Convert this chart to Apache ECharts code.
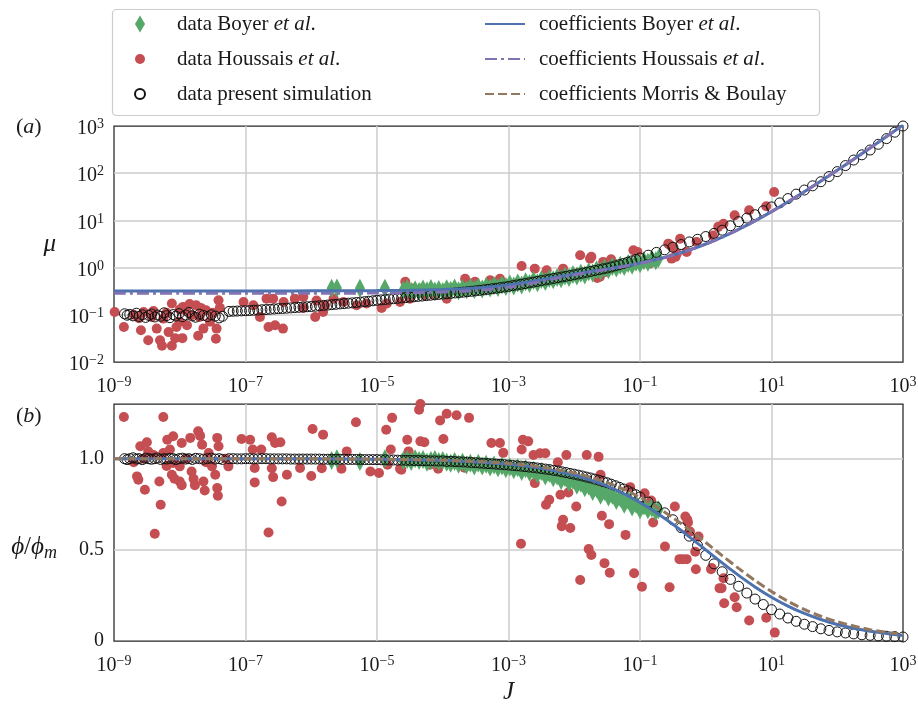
<!DOCTYPE html>
<html><head><meta charset="utf-8">
<script src="https://cdn.jsdelivr.net/npm/echarts/dist/echarts.min.js"></script>
<style>html,body{margin:0;padding:0;background:#fff}#c{width:918px;height:705px}</style>
</head><body><div id="c"></div>
<script>
// ---------- x tick exponents (J = 10^n) ----------
const xTickExponents = [-9, -7, -5, -3, -1, 1, 3];

// ---------- data: present simulation (log10 J, mu, phi/phi_m) ----------
const simLogJ = [-8.84,-8.80,-8.76,-8.71,-8.66,-8.62,-8.57,-8.52,-8.47,-8.43,-8.38,-8.34,-8.29,-8.24,-8.20,-8.15,-8.10,-8.06,-8.01,-7.96,-7.91,-7.86,-7.81,-7.76,-7.70,-7.64,-7.58,-7.52,-7.46,-7.40,-7.35,
 -7.25,-7.125,-7,-6.875,-6.75,-6.625,-6.5,-6.375,-6.25,-6.125,-6,-5.875,-5.75,-5.625,-5.5,-5.375,-5.25,-5.125,-5,-4.875,-4.75,-4.625,-4.5,-4.375,-4.25,-4.125,-4,-3.875,-3.75,-3.625,-3.5,-3.375,-3.25,-3.125,-3,-2.875,-2.75,-2.625,-2.5,-2.375,-2.25,-2.125,-2,-1.875,-1.75,-1.625,-1.5,-1.375,-1.25,-1.125,-1,-0.875,-0.75,-0.625,-0.5,-0.375,-0.25,-0.125,0,0.125,0.25,0.375,0.5,0.625,0.75,0.875,1,1.125,1.25,1.375,1.5,1.625,1.75,1.875,2,2.125,2.25,2.375,2.5,2.625,2.75,2.875,3,
 -7.1875,-7.0625,-6.9375,-6.8125,-6.6875,-6.5625,-6.4375,-6.3125,-6.1875,-6.0625,-5.9375,-5.8125,-5.6875,-5.5625,-5.4375,-5.3125,-5.1875,-5.0625,-4.9375,-4.8125,-4.6875,-4.5625,-4.4375,-4.3125,-4.1875,-4.0625,-3.9375,-3.8125,-3.6875,-3.5625,-3.4375,-3.3125,-3.1875,-3.0625,-2.9375,-2.8125,-2.6875,-2.5625,-2.4375,-2.3125,-2.1875,-2.0625,-1.9375,-1.8125,-1.6875,-1.5625,-1.4375,-1.3125,-1.1875,-1.0625];
const simMu = [0.105,0.098,0.102,0.095,0.108,0.092,0.100,0.088,0.097,0.104,0.090,0.099,0.093,0.110,0.096,0.087,0.101,0.094,0.106,0.091,0.099,0.112,0.095,0.089,0.103,0.097,0.092,0.100,0.094,0.086,0.093,
 0.118,0.120,0.122,0.125,0.128,0.131,0.135,0.138,0.142,0.146,0.150,0.155,0.161,0.167,0.173,0.179,0.186,0.194,0.203,0.211,0.219,0.228,0.237,0.246,0.255,0.265,0.275,0.285,0.296,0.308,0.322,0.338,0.356,0.377,0.400,0.428,0.458,0.492,0.530,0.568,0.610,0.655,0.705,0.765,0.83,0.90,0.98,1.09,1.22,1.39,1.60,1.83,2.10,2.38,2.70,3.08,3.50,3.98,4.55,5.30,6.20,7.70,9.40,11.2,13.2,16.0,19.3,23.5,29.0,36.0,44.0,54,66,85,108,145,190,245,310,410,540,740,1000,
 0.119,0.121,0.123,0.126,0.129,0.133,0.136,0.140,0.144,0.148,0.152,0.158,0.164,0.170,0.176,0.182,0.190,0.198,0.207,0.215,0.223,0.232,0.241,0.250,0.260,0.270,0.280,0.290,0.302,0.315,0.330,0.347,0.366,0.388,0.414,0.443,0.475,0.511,0.549,0.589,0.632,0.680,0.735,0.797,0.865,0.94,1.03,1.15,1.30,1.49];
const simPhi = [1.0,0.995,1.0,1.005,0.998,1.0,0.995,1.003,1.0,0.997,1.0,1.004,0.996,1.0,0.998,1.002,1.0,0.995,1.0,1.003,0.998,1.0,0.996,1.002,1.0,0.997,1.0,1.003,0.998,1.0,0.996,
 1.0,0.999,1.0,0.999,1.0,0.999,0.999,0.999,0.998,0.998,0.998,0.998,0.997,0.997,0.997,0.996,0.996,0.995,0.995,0.994,0.993,0.992,0.991,0.990,0.989,0.988,0.988,0.986,0.983,0.981,0.978,0.975,0.972,0.969,0.965,0.961,0.957,0.952,0.946,0.940,0.933,0.924,0.915,0.905,0.894,0.882,0.868,0.852,0.834,0.813,0.790,0.762,0.735,0.703,0.665,0.622,0.575,0.524,0.470,0.423,0.380,0.338,0.300,0.263,0.230,0.200,0.172,0.148,0.126,0.108,0.092,0.079,0.067,0.058,0.050,0.044,0.039,0.034,0.031,0.028,0.026,0.024,0.022,
 1.0,0.999,1.0,0.999,1.0,0.999,0.999,0.998,0.998,0.998,0.998,0.997,0.997,0.997,0.996,0.996,0.995,0.995,0.994,0.993,0.992,0.991,0.990,0.989,0.988,0.987,0.985,0.984,0.982,0.979,0.976,0.973,0.970,0.967,0.963,0.959,0.954,0.949,0.943,0.936,0.928,0.919,0.910,0.899,0.888,0.875,0.860,0.843,0.824,0.802];

// ---------- data: Boyer et al. ----------
const boyerLogJ = [-5.69,-5.61,-5.26,-4.88,-4.60,-4.54,-4.48,-4.42,-4.36,-4.30,-4.24,-4.18,-4.12,-4.06,-4.00,-3.94,-3.88,-3.82,-3.76,-3.70,-3.64,-3.58,-3.52,-3.46,-3.40,-3.34,-3.28,-3.22,-3.16,-3.10,-3.04,-2.98,-2.92,-2.86,-2.80,-2.74,-2.68,-2.62,-2.56,-2.50,-2.44,-2.38,-2.32,-2.26,-2.20,-2.14,-2.08,-2.02,-1.96,-1.90,-1.84,-1.78,-1.72,-1.66,-1.60,-1.54,-1.48,-1.42,-1.36,-1.30,-1.24,-1.18,-1.12,-1.06,-1.00,-0.94,-0.88,-0.82,-0.76,-0.72];
const boyerMu = [0.365,0.37,0.365,0.365,0.33,0.36,0.315,0.34,0.31,0.35,0.325,0.36,0.32,0.345,0.31,0.355,0.33,0.37,0.325,0.36,0.34,0.385,0.345,0.39,0.35,0.40,0.37,0.42,0.38,0.43,0.40,0.45,0.41,0.47,0.43,0.50,0.46,0.53,0.48,0.56,0.51,0.59,0.55,0.62,0.58,0.66,0.62,0.71,0.66,0.76,0.70,0.82,0.77,0.90,0.84,0.98,0.90,1.05,0.98,1.12,1.05,1.22,1.12,1.30,1.20,1.40,1.30,1.50,1.40,1.55];
const boyerPhi = [0.99,1.0,0.985,1.0,0.99,0.995,0.985,1.0,0.99,0.995,0.98,0.99,0.995,0.985,0.99,0.98,0.975,0.985,0.97,0.98,0.965,0.975,0.96,0.975,0.96,0.97,0.955,0.965,0.95,0.96,0.945,0.955,0.94,0.95,0.93,0.945,0.925,0.935,0.915,0.93,0.905,0.92,0.895,0.905,0.88,0.895,0.87,0.88,0.855,0.865,0.84,0.85,0.82,0.835,0.80,0.82,0.79,0.80,0.77,0.785,0.75,0.77,0.735,0.75,0.72,0.74,0.72,0.73,0.71,0.72];

// ---------- data: Houssais et al. (panel a) ----------
const houssaisTopLogJ = [-8.99,-8.85,-8.70,-8.62,-8.59,-8.55,-8.48,-8.43,-8.40,-8.35,-8.30,-8.27,-8.25,-8.20,-8.17,-8.12,-8.12,-8.07,-8.05,-8.00,-8.00,-7.96,-7.95,-7.90,-7.89,-7.85,-7.82,-7.75,-7.72,-7.70,-7.68,-7.64,-7.60,-7.54,-7.50,-7.45,-7.44,-7.41,-7.39,-7.03,-6.88,-6.78,-6.68,-6.65,-6.58,-6.55,-6.43,-6.42,-6.25,-6.12,-6.12,-5.94,-5.92,-5.82,-5.79,-5.66,-5.51,-5.31,-5.16,-4.93,-4.85,-4.65,-4.57,-4.55,-4.50,-4.45,-4.32,-4.27,-4.12,-3.94,-3.66,-3.51,-3.38,-3.28,-3.13,-3.10,-2.97,-2.80,-2.60,-2.42,-2.21,-2.17,-1.91,-1.76,-1.74,-1.66,-1.65,-1.61,-1.56,-1.53,-1.44,-1.10,-1.04,-1.00,-0.85,-0.57,-0.54,-0.52,-0.51,-0.46,-0.44,-0.39,-0.29,-0.14,0.11,0.19,0.27,0.44,0.66,0.92,1.04];
const houssaisTopMu = [0.115,0.055,0.10,0.085,0.047,0.115,0.029,0.090,0.12,0.051,0.029,0.022,0.083,0.11,0.043,0.022,0.173,0.032,0.055,0.071,0.13,0.032,0.147,0.12,0.060,0.17,0.098,0.16,0.036,0.09,0.14,0.051,0.125,0.071,0.11,0.031,0.051,0.203,0.14,0.187,0.16,0.090,0.22,0.055,0.22,0.060,0.051,0.187,0.22,0.24,0.14,0.090,0.20,0.115,0.16,0.22,0.187,0.16,0.173,0.14,0.173,0.187,0.50,0.28,0.22,0.36,0.36,0.26,0.26,0.22,0.58,0.50,0.36,0.54,0.58,0.48,0.42,1.08,0.95,0.88,0.58,0.95,1.82,1.55,1.69,0.69,0.60,0.64,1.32,0.81,1.50,2.33,2.15,1.22,1.22,3.22,2.97,1.55,2.76,1.69,1.98,4.10,2.15,3.50,4.80,7.30,8.50,12.8,16.4,20.0,40.0];

// ---------- data: Houssais et al. (panel b) ----------
const houssaisBotLogJ = [-8.85,-8.70,-8.65,-8.63,-8.60,-8.55,-8.53,-8.50,-8.48,-8.40,-8.38,-8.31,-8.29,-8.25,-8.25,-8.20,-8.19,-8.15,-8.12,-8.10,-8.10,-8.08,-8.00,-8.00,-7.97,-7.97,-7.90,-7.84,-7.82,-7.79,-7.77,-7.72,-7.69,-7.66,-7.64,-7.62,-7.60,-7.56,-7.51,-7.46,-7.43,-7.43,-7.42,-7.41,-7.30,-7.26,-7.06,-6.93,-6.89,-6.86,-6.86,-6.76,-6.65,-6.60,-6.60,-6.58,-6.55,-6.47,-6.45,-6.37,-6.17,-6.00,-5.98,-5.84,-5.82,-5.54,-5.46,-5.32,-5.10,-4.97,-4.86,-4.84,-4.79,-4.77,-4.65,-4.63,-4.54,-4.52,-4.36,-4.34,-4.34,-4.28,-4.20,-4.07,-4.04,-3.99,-3.94,-3.79,-3.67,-3.60,-3.26,-3.13,-3.08,-2.81,-2.80,-2.78,-2.70,-2.62,-2.60,-2.52,-2.44,-2.43,-2.38,-2.25,-2.21,-2.19,-2.17,-2.12,-2.09,-2.06,-1.97,-1.91,-1.81,-1.78,-1.74,-1.63,-1.60,-1.58,-1.58,-1.54,-1.47,-1.46,-1.22,-1.15,-1.09,-0.97,-0.93,-0.83,-0.80,-0.62,-0.55,-0.47,-0.40,-0.35,-0.31,-0.29,-0.28,-0.27,-0.24,-0.16,-0.15,-0.11,0.08,0.09,0.21,0.24,0.27,0.28,0.44,0.47,0.66,0.92,1.05];
const houssaisBotPhi = [1.229,0.98,0.903,0.885,1.068,1.0,0.83,1.09,1.04,1.02,0.588,0.875,0.747,1.229,1.031,0.96,1.104,1.05,0.912,1.123,0.976,0.89,0.958,0.875,1.086,0.855,1.0,1.114,0.93,0.89,0.855,1.15,1.125,1.077,0.875,0.826,0.98,1.031,0.958,0.912,1.114,0.839,0.797,1.068,1.0,0.958,1.108,1.104,1.05,0.949,0.87,1.05,0.595,1.118,0.948,0.899,1.086,1.09,0.765,0.912,0.949,0.905,1.163,0.948,1.132,0.945,1.04,1.20,0.93,0.922,1.159,0.967,1.05,1.224,0.945,0.94,1.104,1.04,1.269,1.30,1.095,1.09,0.967,0.945,1.21,1.108,1.247,1.238,0.95,1.224,1.086,1.086,1.032,0.533,1.05,1.104,1.095,1.02,0.866,1.03,1.03,0.747,0.775,0.98,0.802,0.63,0.665,1.02,0.815,0.62,0.738,0.335,1.02,0.504,0.472,1.01,0.912,0.835,0.687,0.427,0.641,0.375,0.582,0.844,0.372,0.298,0.81,0.77,0.65,0.518,0.295,0.738,0.449,0.449,0.683,0.449,0.665,0.65,0.60,0.49,0.394,0.573,0.394,0.40,0.29,0.29,0.344,0.207,0.24,0.185,0.112,0.128,0.046];

// ---------- coefficient curves ----------
const topLineLogJ = [-9,-8,-7,-6.5,-6,-5.5,-5,-4.5,-4,-3.75,-3.5,-3.25,-3,-2.75,-2.5,-2.25,-2,-1.75,-1.5,-1.25,-1,-0.75,-0.5,-0.25,0,0.25,0.5,0.75,1,1.5,2,2.5,3];
const boyerCoefMu = [0.3200,0.3201,0.3205,0.3208,0.3215,0.3228,0.3254,0.3306,0.3422,0.3528,0.3689,0.3937,0.4306,0.4832,0.5526,0.6365,0.7296,0.8295,0.9397,1.072,1.2444,1.484,1.833,2.356,3.161,4.427,6.462,9.79,15.32,40.54,115.3,342.9,1046.9];
const houssaisCoefMu = [0.285,0.285,0.285,0.285,0.2855,0.2865,0.289,0.294,0.304,0.312,0.326,0.349,0.384,0.436,0.509,0.60,0.70,0.80,0.915,1.05,1.225,1.47,1.82,2.345,3.15,4.42,6.455,9.78,15.3,40.5,115.2,342.8,1046.8];
const botLineLogJ = [-9,-8,-7,-6,-5.5,-5,-4.5,-4,-3.5,-3,-2.5,-2,-1.75,-1.5,-1.25,-1,-0.75,-0.5,-0.25,0,0.25,0.5,0.75,1,1.25,1.5,1.75,2,2.5,3];
const boyerCoefPhi = [1.0,0.9999,0.9997,0.999,0.9982,0.9968,0.9944,0.9901,0.9825,0.9693,0.9468,0.9091,0.8823,0.849,0.8083,0.7597,0.7034,0.6401,0.5714,0.5,0.4285,0.36,0.2966,0.2403,0.1917,0.151,0.1177,0.0909,0.0532,0.0307];
const morrisCoefPhi = [1.0,0.9999,0.9997,0.9992,0.9985,0.9973,0.9952,0.9916,0.9851,0.9738,0.9544,0.9217,0.8982,0.8687,0.8323,0.7882,0.7362,0.6766,0.6107,0.5405,0.4687,0.3982,0.3316,0.2712,0.2181,0.173,0.1356,0.1053,0.0621,0.0359];

// ---------- style ----------
const FONT = '"Liberation Serif","Times New Roman","DejaVu Serif",serif';
const TXT = '#1a1a1a';
const GREEN = '#55A868', RED = '#C44E52', BLUE = '#4C72B0', PURPLE = '#8172B2', BROWN = '#937860';
const GRIDC = '#cccccc';

const powRich = {
  b: {fontFamily: FONT, fontSize: 20, color: TXT, padding: [6, 0, 0, 0]},
  s: {fontFamily: FONT, fontSize: 14, color: TXT, padding: [0, 0, 3, 0]}
};
function powLabel(v) {
  const n = Math.round(v);
  return '{b|10}{s|' + (n < 0 ? '\u2212' + (-n) : String(n)) + '}';
}
const lg = Math.log10;
function pts(xs, ys, f) { return xs.map((x, i) => [x, f ? f(ys[i]) : ys[i]]); }

function xAx(gi, withName) {
  return {
    type: 'value', gridIndex: gi, min: -9, max: 3, interval: 2,
    axisLine: {show: false}, axisTick: {show: false},
    splitLine: {show: true, showMinLine: false, showMaxLine: false, lineStyle: {color: GRIDC, width: 1.5}},
    axisLabel: {margin: 9, formatter: powLabel, rich: powRich},
    name: withName ? 'J' : '', nameLocation: 'middle', nameGap: 39,
    nameTextStyle: {fontFamily: FONT, fontStyle: 'italic', fontSize: 25, color: TXT}
  };
}

const chart = echarts.init(document.getElementById('c'), null, {renderer: 'canvas'});
const legendText = {
  fontFamily: FONT, fontSize: 21, color: TXT, lineHeight: 24,
  rich: {
    g1: {width: 27}, g2: {width: 9},
    i: {fontFamily: FONT, fontSize: 21, fontStyle: 'italic', color: TXT}
  }
};
function fmtName(n) { return n.replace('et al.', '{i|et al}.'); }

const option = {
  animation: false,
  backgroundColor: '#ffffff',
  grid: [
    {left: 114, top: 126, width: 789, height: 236, show: true, borderColor: '#262626', borderWidth: 1.25, backgroundColor: 'rgba(0,0,0,0)', containLabel: false, outerBoundsMode: 'none'},
    {left: 114, top: 404, width: 789, height: 237, show: true, borderColor: '#262626', borderWidth: 1.25, backgroundColor: 'rgba(0,0,0,0)', containLabel: false, outerBoundsMode: 'none'}
  ],
  xAxis: [xAx(0, false), xAx(1, true)],
  yAxis: [
    {type: 'value', gridIndex: 0, min: -2, max: 3, interval: 1,
     axisLine: {show: false}, axisTick: {show: false},
     splitLine: {show: true, showMinLine: false, showMaxLine: false, lineStyle: {color: GRIDC, width: 1.5}},
     axisLabel: {margin: 10, formatter: powLabel, rich: powRich},
     name: '\u03BC', nameLocation: 'middle', nameRotate: 0, nameGap: 58,
     nameTextStyle: {fontFamily: FONT, fontStyle: 'italic', fontSize: 25, color: TXT}},
    {type: 'value', gridIndex: 1, min: 0, max: 1.3, interval: 0.5,
     axisLine: {show: false}, axisTick: {show: false},
     splitLine: {show: true, showMinLine: false, showMaxLine: false, lineStyle: {color: GRIDC, width: 1.5}},
     axisLabel: {margin: 10, showMaxLabel: false, fontFamily: FONT, fontSize: 20, color: TXT,
       formatter: v => Math.abs(v) < 1e-9 ? '0' : (Math.abs(v - 0.5) < 1e-9 ? '0.5' : (Math.abs(v - 1) < 1e-9 ? '1.0' : ''))},
     name: '{it|\u03D5}/{it|\u03D5}{sub|m}', nameLocation: 'middle', nameRotate: 0, nameGap: 57,
     nameTextStyle: {fontFamily: FONT, fontSize: 25, color: TXT, padding: [50, 0, 0, 0],
       rich: {it: {fontFamily: FONT, fontStyle: 'italic', fontSize: 25, color: TXT},
              sub: {fontFamily: FONT, fontStyle: 'italic', fontSize: 18, color: TXT, padding: [12, 0, 0, 0]}}}}
  ],
  title: [
    {text: '({i|a})', left: 16, top: 116, padding: 0,
     textStyle: {fontFamily: FONT, fontSize: 22, fontWeight: 'normal', color: TXT, rich: {i: {fontFamily: FONT, fontSize: 22, fontStyle: 'italic', color: TXT}}}},
    {text: '({i|b})', left: 16, top: 405, padding: 0,
     textStyle: {fontFamily: FONT, fontSize: 22, fontWeight: 'normal', color: TXT, rich: {i: {fontFamily: FONT, fontSize: 22, fontStyle: 'italic', color: TXT}}}}
  ],
  graphic: [
    {type: 'rect', z: 1, silent: true, shape: {x: 112.5, y: 9.5, width: 707, height: 106, r: 4},
     style: {fill: '#ffffff', stroke: '#cccccc', lineWidth: 1.2}}
  ],
  legend: [
    {left: 134, top: 12, orient: 'vertical', itemWidth: 10, itemHeight: 17, itemGap: 11, padding: 0, z: 5,
     selectedMode: false,
     data: ['data Boyer et al.', 'data Houssais et al.', 'data present simulation'],
     formatter: n => '{g1| }' + fmtName(n), textStyle: legendText},
    {left: 484, top: 12, orient: 'vertical', itemWidth: 40, itemHeight: 17, itemGap: 11, padding: 0, z: 5,
     selectedMode: false, itemStyle: {opacity: 0},
     data: ['coefficients Boyer et al.', 'coefficients Houssais et al.', 'coefficients Morris & Boulay'],
     formatter: n => '{g2| }' + fmtName(n), textStyle: legendText}
  ],
  series: [
    // panel (a)
    {name: 'data Houssais et al.', type: 'scatter', xAxisIndex: 0, yAxisIndex: 0, z: 2, silent: true,
     data: pts(houssaisTopLogJ, houssaisTopMu, lg), symbol: 'circle', symbolSize: 10, itemStyle: {color: RED, opacity: 1}},
    {name: 'data Boyer et al.', type: 'scatter', xAxisIndex: 0, yAxisIndex: 0, z: 3, silent: true,
     data: pts(boyerLogJ, boyerMu, lg), symbol: 'diamond', symbolSize: [10, 19], itemStyle: {color: GREEN, opacity: 1}},
    {name: 'data present simulation', type: 'scatter', xAxisIndex: 0, yAxisIndex: 0, z: 4, silent: true,
     data: pts(simLogJ, simMu, lg), symbol: 'circle', symbolSize: 10,
     itemStyle: {color: 'rgba(255,255,255,0)', borderColor: '#111111', borderWidth: 1, opacity: 1}},
    {name: 'coefficients Boyer et al.', type: 'line', xAxisIndex: 0, yAxisIndex: 0, z: 5, silent: true,
     data: pts(topLineLogJ, boyerCoefMu, lg), symbol: 'none', smooth: 0.3, color: BLUE,
     itemStyle: {color: BLUE}, lineStyle: {color: BLUE, width: 3}},
    {name: 'coefficients Houssais et al.', type: 'line', xAxisIndex: 0, yAxisIndex: 0, z: 6, silent: true,
     data: pts(topLineLogJ, houssaisCoefMu, lg), symbol: 'none', smooth: 0.3, color: PURPLE,
     itemStyle: {color: PURPLE}, lineStyle: {color: PURPLE, width: 3, type: [12, 4, 3, 4]}},
    // panel (b)
    {name: 'data Houssais et al.', type: 'scatter', xAxisIndex: 1, yAxisIndex: 1, z: 2, silent: true,
     data: pts(houssaisBotLogJ, houssaisBotPhi), symbol: 'circle', symbolSize: 10, itemStyle: {color: RED, opacity: 1}},
    {name: 'data Boyer et al.', type: 'scatter', xAxisIndex: 1, yAxisIndex: 1, z: 3, silent: true,
     data: pts(boyerLogJ, boyerPhi), symbol: 'diamond', symbolSize: [10, 19], itemStyle: {color: GREEN, opacity: 1}},
    {name: 'data present simulation', type: 'scatter', xAxisIndex: 1, yAxisIndex: 1, z: 4, silent: true,
     data: pts(simLogJ, simPhi), symbol: 'circle', symbolSize: 10,
     itemStyle: {color: 'rgba(255,255,255,0)', borderColor: '#111111', borderWidth: 1, opacity: 1}},
    {name: 'coefficients Boyer et al.', type: 'line', xAxisIndex: 1, yAxisIndex: 1, z: 5, silent: true,
     data: pts(botLineLogJ, boyerCoefPhi), symbol: 'none', smooth: 0.3, color: BLUE,
     itemStyle: {color: BLUE}, lineStyle: {color: BLUE, width: 3}},
    {name: 'coefficients Morris & Boulay', type: 'line', xAxisIndex: 1, yAxisIndex: 1, z: 7, silent: true,
     data: pts(botLineLogJ, morrisCoefPhi), symbol: 'none', smooth: 0.3, color: BROWN,
     itemStyle: {color: BROWN}, lineStyle: {color: BROWN, width: 3, type: [9, 4]}}
  ]
};
chart.setOption(option);
</script>
</body></html>
